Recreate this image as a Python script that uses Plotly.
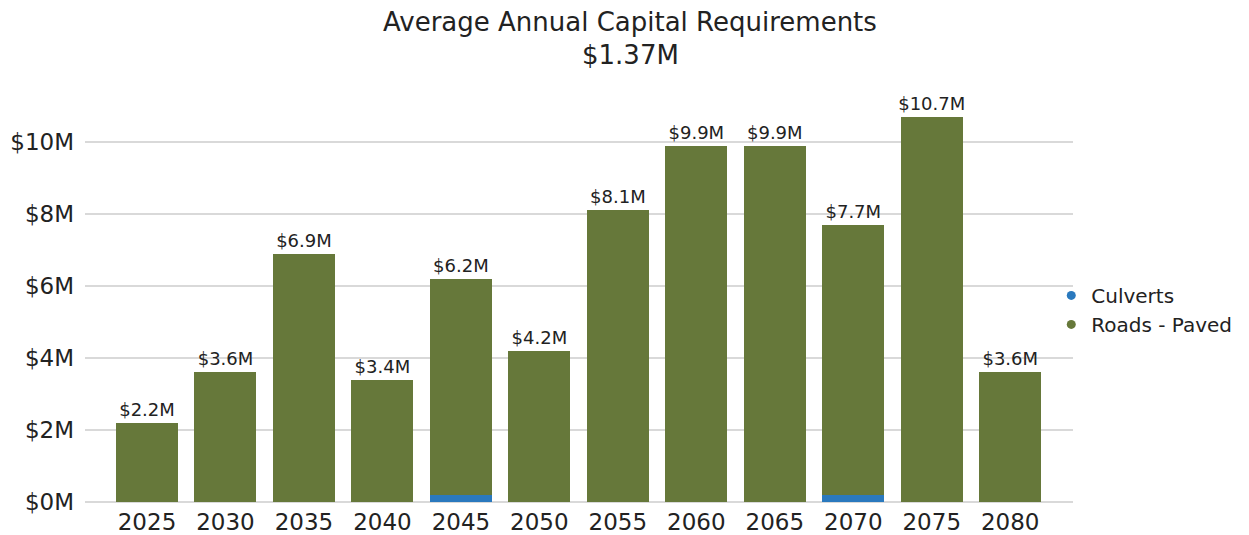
import plotly.graph_objects as go

years = ["2025", "2030", "2035", "2040", "2045", "2050", "2055", "2060", "2065", "2070", "2075", "2080"]
culverts = [0, 0, 0, 0, 0.2, 0, 0, 0, 0, 0.2, 0, 0]
roads_paved = [2.2, 3.6, 6.9, 3.4, 6.0, 4.2, 8.1, 9.9, 9.9, 7.5, 10.7, 3.6]
ytick_vals = [0, 2, 4, 6, 8, 10]
ytick_text = ["$0M", "$2M", "$4M", "$6M", "$8M", "$10M"]
title_lines = ["Average Annual Capital Requirements", "$1.37M"]

GREEN = "#66783A"
BLUE = "#2A79BE"
FONT = "DejaVu Sans"
TXT = "#222222"

totals = [c + r for c, r in zip(culverts, roads_paved)]
labels = [f"${t:.1f}M" for t in totals]

fig = go.Figure()
fig.add_trace(go.Bar(x=years, y=culverts, name="Culverts", marker=dict(color=BLUE, line=dict(width=0)),
                     showlegend=False))
fig.add_trace(go.Bar(x=years, y=roads_paved, name="Roads - Paved", marker=dict(color=GREEN, line=dict(width=0)),
                     text=labels, textposition="outside", cliponaxis=False, constraintext="none",
                     textfont=dict(family=FONT, size=18, color=TXT),
                     showlegend=False))
# legend entries with circular markers
fig.add_trace(go.Scatter(x=[None], y=[None], mode="markers", name="Culverts", legendgroup="a",
                         marker=dict(color=BLUE, size=9, symbol="circle")))
fig.add_trace(go.Scatter(x=[None], y=[None], mode="markers", name="Roads - Paved", legendgroup="b",
                         marker=dict(color=GREEN, size=9, symbol="circle")))

annotations = [
    dict(text=title_lines[0], x=0.552, y=1.212, xref="paper", yref="paper", showarrow=False,
         xanchor="center", yanchor="middle", font=dict(family=FONT, size=26, color=TXT)),
    dict(text=title_lines[1], x=0.552, y=1.129, xref="paper", yref="paper", showarrow=False,
         xanchor="center", yanchor="middle", font=dict(family=FONT, size=26, color=TXT)),
]

fig.update_layout(
    barmode="stack",
    bargap=0.21,
    width=1233, height=527,
    paper_bgcolor="white", plot_bgcolor="white",
    margin=dict(l=77, r=168, t=98, b=33, autoexpand=False),
    font=dict(family=FONT, color=TXT),
    annotations=annotations,
    legend=dict(x=0.978, xanchor="left", y=0.485, yanchor="middle", traceorder="normal",
                font=dict(family=FONT, size=20, color=TXT),
                itemwidth=30, tracegroupgap=5, bgcolor="rgba(0,0,0,0)"),
    xaxis=dict(type="category", range=[-0.79, 11.8], showgrid=False, showline=False,
               ticks="", ticklabelstandoff=4, tickfont=dict(family=FONT, size=23, color=TXT)),
    yaxis=dict(range=[0, 11], tickvals=ytick_vals, ticktext=ytick_text, showgrid=True,
               gridcolor="#D9D9D9", gridwidth=1.5, zeroline=True, zerolinecolor="#D9D9D9",
               zerolinewidth=1.5, showline=False, ticks="", ticklabelstandoff=10,
               tickfont=dict(family=FONT, size=23, color=TXT)),
)

fig.write_html("out.html")
